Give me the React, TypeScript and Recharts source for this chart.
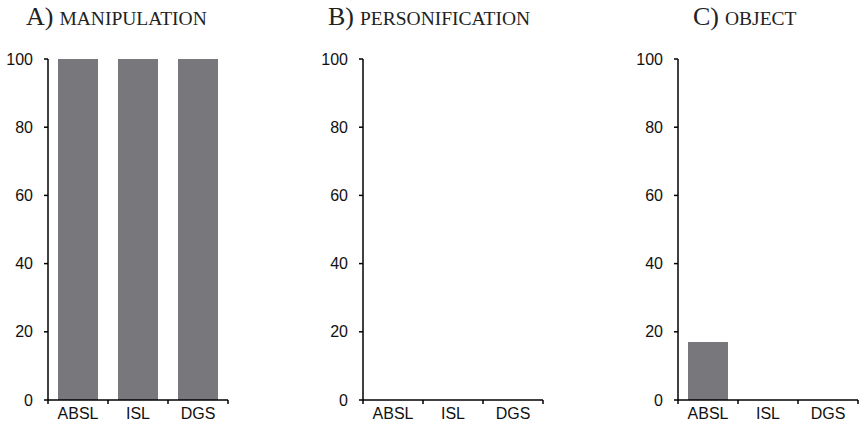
import React from 'react';
import { BarChart, Bar, XAxis, YAxis } from 'recharts';

const languages = ['ABSL', 'ISL', 'DGS'];
const manipulation = [100, 100, 100];
const personification = [0, 0, 0];
const object = [17, 0, 0];
const yTicks = [0, 20, 40, 60, 80, 100];

const panels = [
  { letter: 'A)', name: 'MANIPULATION', values: manipulation, left: 0, titleX: 26 },
  { letter: 'B)', name: 'PERSONIFICATION', values: personification, left: 315, titleX: 328 },
  { letter: 'C)', name: 'OBJECT', values: object, left: 630, titleX: 693 },
];

const BAR_COLOR = '#78787c';
const sans = '"Liberation Sans", Arial, sans-serif';
const serif = '"Liberation Serif", "Times New Roman", serif';

// category label in the middle, tick marks on the band edges
function CategoryTick(props: any) {
  const { x, y, payload, index, visibleTicksCount } = props;
  const half = payload && payload.offset ? payload.offset : 30;
  return (
    <g>
      <line x1={x - half} x2={x - half} y1={y} y2={y + 4} stroke="#000" strokeWidth={1.5} />
      {index === visibleTicksCount - 1 && (
        <line x1={x + half} x2={x + half} y1={y} y2={y + 4} stroke="#000" strokeWidth={1.5} />
      )}
      <text x={x} y={y + 8} dy="0.71em" textAnchor="middle" fontSize={16} fill="#111" fontFamily={sans}>
        {payload.value}
      </text>
    </g>
  );
}

function Panel({ values, left }: { values: number[]; left: number }) {
  const data = languages.map((lang, i) => ({ lang, value: values[i] }));
  return (
    <div style={{ position: 'absolute', left, top: 0 }}>
      <BarChart
        width={245}
        height={430}
        data={data}
        margin={{ top: 59, right: 17, left: 0, bottom: 0 }}
        barCategoryGap={10}
      >
        <XAxis
          dataKey="lang"
          height={30}
          axisLine={{ stroke: '#000', strokeWidth: 1.5 }}
          tickLine={false}
          tickSize={0}
          tickMargin={0}
          tick={<CategoryTick />}
          interval={0}
        />
        <YAxis
          width={48}
          domain={[0, 100]}
          ticks={yTicks}
          interval={0}
          tickSize={4}
          tickMargin={11}
          axisLine={{ stroke: '#000', strokeWidth: 1.5 }}
          tickLine={{ stroke: '#000', strokeWidth: 1.5 }}
          tick={{ fontSize: 16, fill: '#111', fontFamily: sans }}
        />
        <Bar dataKey="value" fill={BAR_COLOR} isAnimationActive={false} />
      </BarChart>
    </div>
  );
}

export default function App() {
  return (
    <div style={{ position: 'absolute', left: 0, top: 0, width: 859, height: 430, background: '#fff' }}>
      {panels.map((p) => (
        <Panel key={p.letter} values={p.values} left={p.left} />
      ))}
      <svg width={859} height={40} style={{ position: 'absolute', left: 0, top: 0 }}>
        {panels.map((p) => (
          <text key={p.letter} x={p.titleX} y={25} fontFamily={serif} fill="#222">
            <tspan fontSize={26}>{p.letter}</tspan>
            <tspan fontSize={19.5} dx={6}>{p.name}</tspan>
          </text>
        ))}
      </svg>
    </div>
  );
}
